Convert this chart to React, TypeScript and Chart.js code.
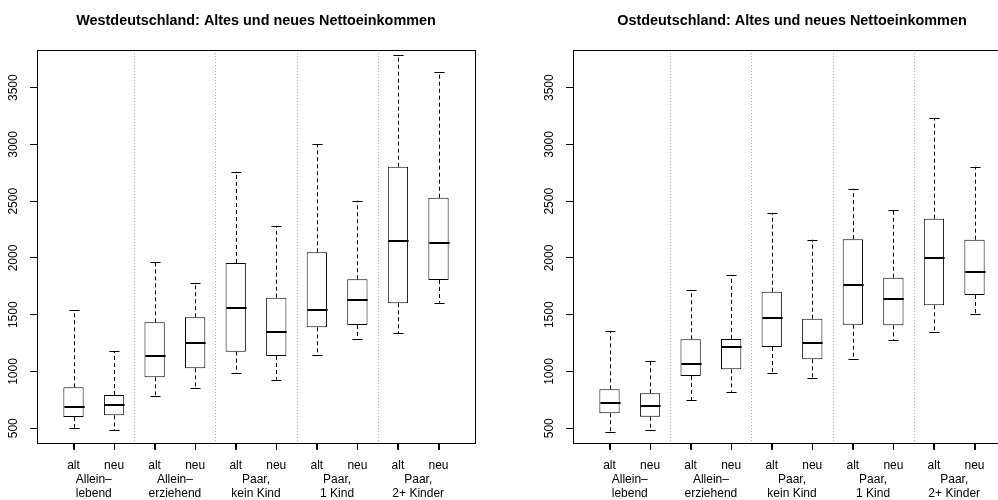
import React, { useEffect, useRef } from "react";
import { Chart, registerables } from "chart.js";

Chart.register(...registerables);

// ---- data ----
const subLabels = ["alt", "neu", "alt", "neu", "alt", "neu", "alt", "neu", "alt", "neu"];
const groupLabels = [
  ["Allein–", "lebend"],
  ["Allein–", "erziehend"],
  ["Paar,", "kein Kind"],
  ["Paar,", "1 Kind"],
  ["Paar,", "2+ Kinder"],
];
const yTicks = [500, 1000, 1500, 2000, 2500, 3000, 3500];

const westTitle = "Westdeutschland: Altes und neues Nettoeinkommen";
const westMin = [505, 482, 787, 855, 984, 928, 1148, 1286, 1339, 1606];
const westQ1 = [600, 614, 949, 1028, 1175, 1137, 1389, 1410, 1601, 1806];
const westMed = [685, 702, 1137, 1254, 1562, 1351, 1542, 1630, 2147, 2135];
const westQ3 = [861, 793, 1433, 1478, 1956, 1650, 2050, 1812, 2804, 2531];
const westMax = [1539, 1181, 1967, 1782, 2760, 2284, 3004, 2505, 3788, 3635];

const ostTitle = "Ostdeutschland: Altes und neues Nettoeinkommen";
const ostMin = [467, 482, 746, 823, 984, 946, 1108, 1275, 1345, 1507];
const ostQ1 = [632, 602, 961, 1019, 1216, 1108, 1412, 1407, 1583, 1674];
const ostMed = [726, 699, 1064, 1216, 1474, 1254, 1759, 1639, 2003, 1874];
const ostQ3 = [843, 808, 1284, 1287, 1703, 1465, 2166, 1826, 2346, 2161];
const ostMax = [1357, 1090, 1718, 1850, 2393, 2161, 2610, 2423, 3230, 2804];

const FONT = "'Liberation Sans', Arial, Helvetica, sans-serif";

type Props = {
  title: string;
  mins: number[];
  q1: number[];
  med: number[];
  q3: number[];
  maxs: number[];
};

const boxPlugin = {
  id: "boxExtras",
  beforeDatasetsDraw(chart: any) {
    const { ctx, chartArea, scales } = chart;
    const x = scales.x;
    ctx.save();
    ctx.strokeStyle = "#aaaaaa";
    ctx.lineWidth = 1;
    ctx.setLineDash([1, 2]);
    for (let g = 1; g < groupLabels.length; g++) {
      const px = Math.round(x.getPixelForValue(g * 2 + 0.5)) + 0.5;
      ctx.beginPath();
      ctx.moveTo(px, chartArea.top);
      ctx.lineTo(px, chartArea.bottom);
      ctx.stroke();
    }
    ctx.restore();
  },
  afterDatasetsDraw(chart: any) {
    const { ctx, scales } = chart;
    const x = scales.x;
    const y = scales.y;
    const st = chart.options.plugins.boxExtras;
    const meta = chart.getDatasetMeta(0);
    ctx.save();
    ctx.strokeStyle = "#000";
    for (let i = 0; i < st.med.length; i++) {
      const cx = Math.round(x.getPixelForValue(i + 1)) + 0.5;
      const bar = meta.data[i];
      const half = bar ? bar.width / 2 : 10;
      const cap = half / 2;
      // whiskers
      ctx.lineWidth = 1;
      ctx.setLineDash([4, 3]);
      ctx.beginPath();
      ctx.moveTo(cx, y.getPixelForValue(st.q3[i]));
      ctx.lineTo(cx, y.getPixelForValue(st.maxs[i]));
      ctx.moveTo(cx, y.getPixelForValue(st.q1[i]));
      ctx.lineTo(cx, y.getPixelForValue(st.mins[i]));
      ctx.stroke();
      // caps
      ctx.setLineDash([]);
      ctx.beginPath();
      const yt = Math.round(y.getPixelForValue(st.maxs[i])) + 0.5;
      const yb = Math.round(y.getPixelForValue(st.mins[i])) + 0.5;
      ctx.moveTo(cx - cap, yt);
      ctx.lineTo(cx + cap, yt);
      ctx.moveTo(cx - cap, yb);
      ctx.lineTo(cx + cap, yb);
      ctx.stroke();
      // median
      ctx.lineWidth = 2;
      const ym = Math.round(y.getPixelForValue(st.med[i]));
      ctx.beginPath();
      ctx.moveTo(cx - half, ym);
      ctx.lineTo(cx + half, ym);
      ctx.stroke();
    }
    ctx.restore();
  },
  afterDraw(chart: any) {
    const { ctx, chartArea, scales } = chart;
    const x = scales.x;
    ctx.save();
    ctx.setLineDash([]);
    ctx.strokeStyle = "#000000";
    ctx.lineWidth = 1;
    const by = Math.round(chartArea.bottom);
    ctx.beginPath();
    for (let i = 0; i < subLabels.length; i++) {
      const cx = Math.round(x.getPixelForValue(i + 1)) + 0.5;
      ctx.moveTo(cx, by);
      ctx.lineTo(cx, by + 7);
    }
    ctx.stroke();
    // frame
    ctx.strokeRect(
      Math.round(chartArea.left) + 0.5,
      Math.round(chartArea.top) + 0.5,
      Math.round(chartArea.right - chartArea.left),
      Math.round(chartArea.bottom - chartArea.top)
    );
    ctx.restore();
  },
};

function BoxChart({ title, mins, q1, med, q3, maxs }: Props) {
  const ref = useRef<HTMLCanvasElement>(null);
  useEffect(() => {
    if (!ref.current) return;
    const data = med.map((_, i) => ({ x: i + 1, y: [q1[i], q3[i]] }));
    const chart = new Chart(ref.current, {
      type: "bar",
      data: {
        datasets: [
          {
            data: data as any,
            backgroundColor: "#ffffff",
            borderColor: "#000000",
            borderWidth: 1,
            borderSkipped: false,
            categoryPercentage: 1,
            barPercentage: 0.5,
          },
        ],
      },
      plugins: [boxPlugin],
      options: {
        animation: false,
        responsive: false,
        layout: { padding: { left: 0, right: 61, top: 0, bottom: 0 } },
        plugins: {
          legend: { display: false },
          tooltip: { enabled: false },
          title: {
            display: true,
            text: title,
            fullSize: false,
            color: "#000",
            font: { family: FONT, size: 14.4, weight: "bold" },
            padding: { top: 12.4, bottom: 20.3 },
          },
          boxExtras: { mins, q1, med, q3, maxs },
        } as any,
        scales: {
          x: {
            type: "linear",
            position: "bottom",
            min: 0.1,
            max: 10.9,
            offset: false,
            weight: 0,
            afterBuildTicks: (s: any) => {
              s.ticks = subLabels.map((_, i) => ({ value: i + 1 }));
            },
            afterFit: (s: any) => {
              s.height = 30.4;
            },
            grid: {
              display: true,
              offset: false,
              drawOnChartArea: false,
              drawTicks: true,
              tickLength: 7,
              tickColor: "#000",
              tickWidth: 1,
            },
            border: { display: false },
            ticks: {
              autoSkip: false,
              maxRotation: 0,
              minRotation: 0,
              padding: 9,
              color: "#000",
              font: { family: FONT, size: 12 },
              callback: (_v: any, i: number) => subLabels[i],
            },
          },
          xg: {
            type: "linear",
            position: "bottom",
            min: 0.1,
            max: 10.9,
            offset: false,
            weight: 1,
            afterBuildTicks: (s: any) => {
              s.ticks = groupLabels.map((_, i) => ({ value: i * 2 + 1.5 }));
            },
            afterFit: (s: any) => {
              s.height = 26.9;
            },
            grid: { display: false, drawTicks: false, offset: false },
            border: { display: false },
            ticks: {
              autoSkip: false,
              maxRotation: 0,
              minRotation: 0,
              padding: -1,
              color: "#000",
              font: { family: FONT, size: 12 },
              callback: (_v: any, i: number) => groupLabels[i],
            },
          },
          y: {
            type: "linear",
            min: 373,
            max: 3832,
            afterBuildTicks: (s: any) => {
              s.ticks = yTicks.map((v) => ({ value: v }));
            },
            afterFit: (s: any) => {
              s.width = 37;
            },
            grid: {
              display: true,
              drawOnChartArea: false,
              drawTicks: true,
              tickLength: 7,
              tickColor: "#000",
              tickWidth: 1,
            },
            border: { display: false },
            ticks: {
              minRotation: 90,
              maxRotation: 90,
              crossAlign: "center",
              padding: 3,
              color: "#000",
              font: { family: FONT, size: 12 },
              callback: (v: any) => String(v),
            },
          },
        },
      } as any,
    });
    return () => chart.destroy();
  }, [title, mins, q1, med, q3, maxs]);
  return <canvas ref={ref} width={536} height={500} style={{ display: "block" }} />;
}

export default function App() {
  return (
    <div
      style={{
        position: "fixed",
        left: 0,
        top: 0,
        width: 998,
        height: 500,
        overflow: "hidden",
        background: "#fff",
      }}
    >
      <div style={{ position: "absolute", left: 0, top: 0, width: 536, height: 500 }}>
        <BoxChart title={westTitle} mins={westMin} q1={westQ1} med={westMed} q3={westQ3} maxs={westMax} />
      </div>
      <div style={{ position: "absolute", left: 536, top: 0, width: 536, height: 500 }}>
        <BoxChart title={ostTitle} mins={ostMin} q1={ostQ1} med={ostMed} q3={ostQ3} maxs={ostMax} />
      </div>
    </div>
  );
}
